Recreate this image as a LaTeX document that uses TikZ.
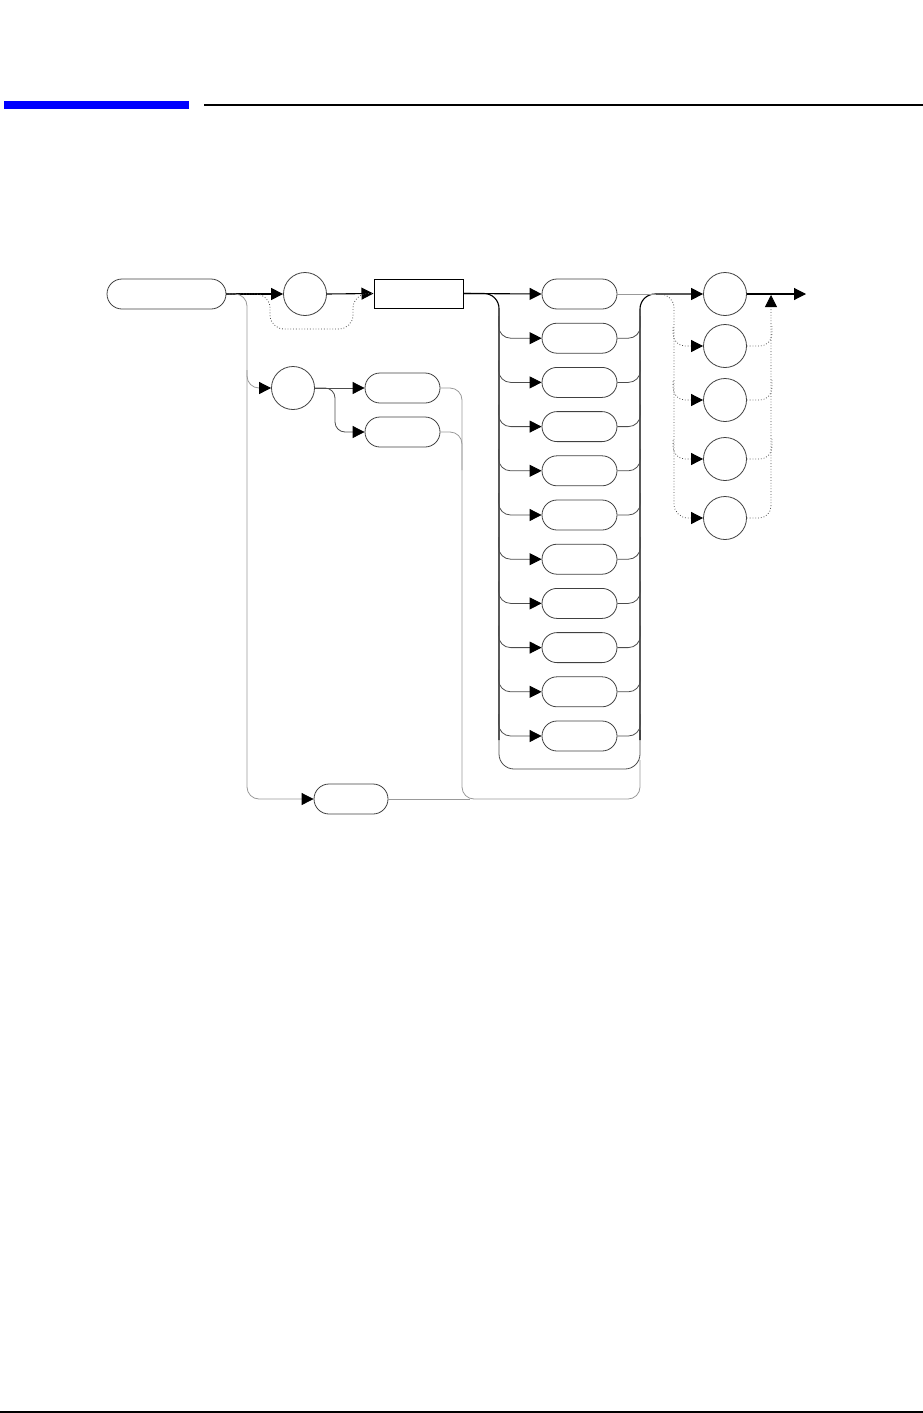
\documentclass[tikz,border=0pt]{standalone}
\usetikzlibrary{arrows.meta}
\begin{document}
\begin{tikzpicture}[x=1pt,y=-1pt,
  pill/.style={draw=black!75,line width=0.8pt,rectangle,rounded corners=15pt,minimum width=75pt,minimum height=30pt,inner sep=0pt},
  ring/.style={draw=black!75,line width=0.8pt,circle,minimum size=43pt,inner sep=0pt},
  keybox/.style={draw,line width=1pt,rectangle,minimum width=89pt,minimum height=29pt,inner sep=0pt},
  farrow/.style={-{Triangle[length=12pt,width=12pt,color=black,fill=black]}},
  barrow/.style={{Triangle[length=12pt,width=12pt,color=black,fill=black]}-},
  mainline/.style={line width=1.1pt,black},
  sideline/.style={line width=0.8pt,black!70},
  faintline/.style={line width=0.8pt,black!40},
  optline/.style={line width=0.8pt,black!70,dotted}]
\useasboundingbox (0,0) rectangle (923,1413);

% page rules
\fill[blue] (4,101) rectangle (189,109);
\fill (204,104) rectangle (923,106);
\fill (0,1411) rectangle (923,1413);

% nodes
\node[pill,minimum width=119pt] (hdr) at (166.5,294) {};
\node[ring] (c1) at (305,294) {};
\node[keybox] (key) at (418.5,293.5) {};
\node[ring] (c2) at (293,388) {};
\node[pill] (pa) at (402.5,388) {};
\node[pill] (pb) at (402.5,432) {};
\node[pill,minimum width=74pt] (pz) at (351,799) {};
\foreach \k in {1,...,11}
  \node[pill] (p\k) at (579.5,{294+44.2*(\k-1)}) {};
\node[ring] (r1) at (725,294) {};
\node[ring] (r2) at (725,346) {};
\node[ring] (r3) at (725,400) {};
\node[ring] (r4) at (725,459) {};
\node[ring] (r5) at (725,518) {};
\coordinate (split) at (656,294);
\coordinate (merge) at (771,295);
\coordinate (exit) at (806,294);

% first part
\draw[mainline,farrow] (hdr.east) -- (c1.west);
\draw[mainline,farrow] (c1.east) -- (key.west);
\draw[optline,rounded corners=14pt] (hdr.east) -- (270,294) -- (270,329) -- (353,329) -- (353,294) -- (key.west);
\draw[faintline,rounded corners=12pt,farrow] (hdr.east) -| (247,388) -- (c2.west);
\draw[faintline,rounded corners=12pt,farrow] (247,370) |- (pz.west);
\draw[sideline,farrow] (c2.east) -- (pa.west);
\draw[sideline,rounded corners=10pt,farrow] (c2.east) -- (335,388) |- (pb.west);
\draw[faintline,rounded corners=12pt] (pa.east) -| (462,799) -| (640,760);
\draw[faintline,rounded corners=12pt] (pb.east) -| (462,470);
\draw[faintline] (pz.east) -- (470,799);

% column of choices
\draw[mainline,farrow] (key.east) -- (p1.west);
\draw[mainline,rounded corners=15pt] (key.east) -| (499,740);
\draw[sideline,rounded corners=15pt] (499,730) |- (640,769) -- (640,730);
\draw[mainline,rounded corners=15pt,farrow] (640,740) |- (r1.west);
\draw[faintline] (p1.east) -- (split);
\foreach \k in {2,...,11} {
  \draw[sideline,rounded corners=12pt,barrow] (p\k.west) -| ++(-43,-22);
  \draw[sideline,rounded corners=12pt] (p\k.east) -| ++(23,-22);
}

% suffix
\draw[optline,rounded corners=14pt,farrow] (split) -| (674,518) -- (r5.west);
\foreach \k in {2,3,4} {
  \draw[optline,rounded corners=12pt,barrow] (r\k.west) -| ++(-30,-20);
  \draw[optline,rounded corners=12pt] (r\k.east) -| ++(25,-20);
}
\draw[optline,rounded corners=12pt,farrow] (r5.east) -| (merge);
\draw[mainline,farrow] (r1.east) -- (exit);
\end{tikzpicture}
\end{document}
